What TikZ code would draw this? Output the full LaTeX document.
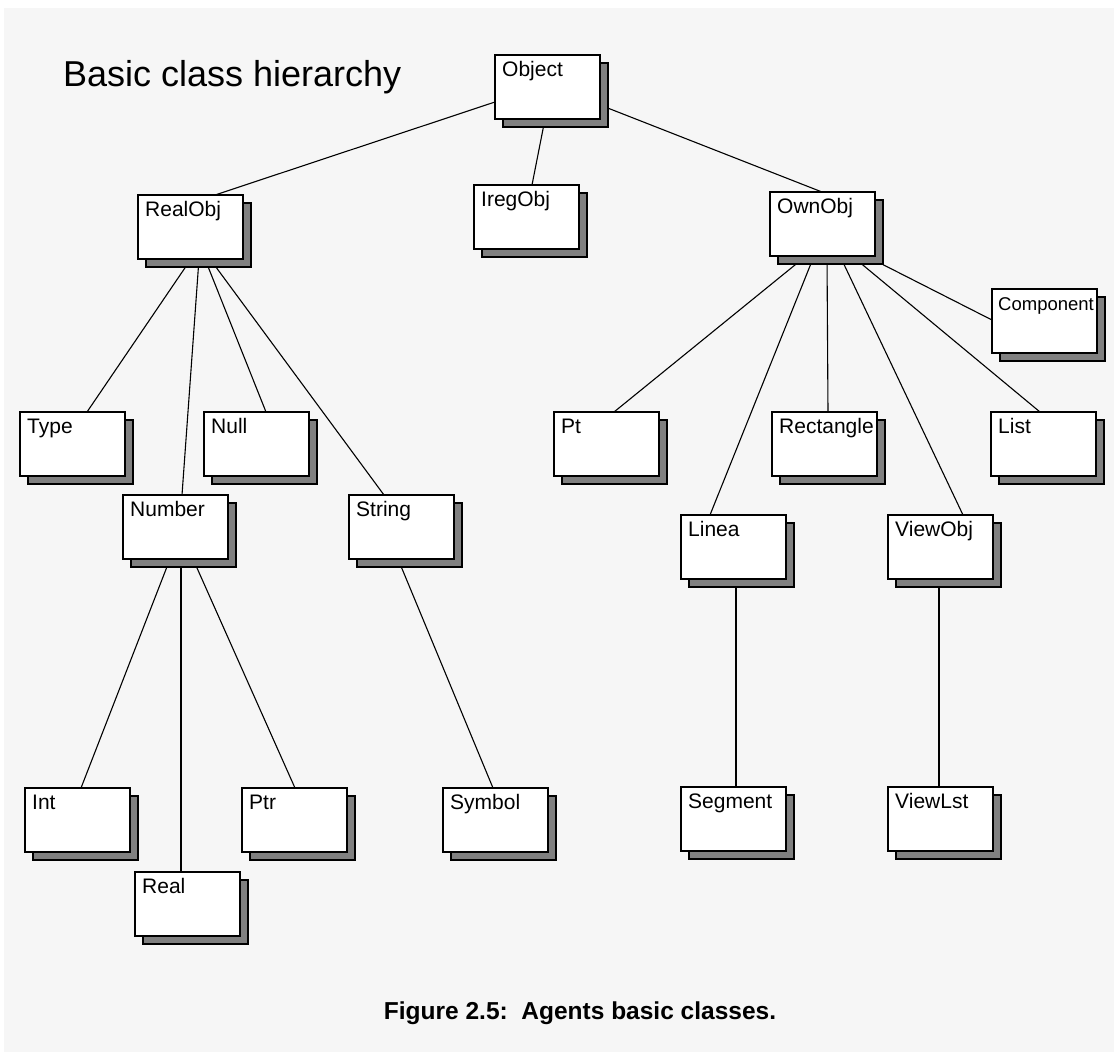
\documentclass[tikz,border=0pt]{standalone}
\usepackage{fontspec}
\setmainfont{Liberation Sans}
\usetikzlibrary{shadows,backgrounds}
\definecolor{pagegray}{HTML}{F6F6F6}
\definecolor{shadowgray}{HTML}{808080}
\begin{document}
\begin{tikzpicture}[x=1pt,y=-1pt,
  clstext/.style={anchor=base west, inner sep=0pt, xshift=7pt, yshift=-21pt,
    font=\fontsize{21}{21}\selectfont},
  clsbox/.style={rectangle, draw=black, fill=white, line width=1.1pt,
    minimum width=105pt, minimum height=64pt, inner sep=0pt, outer sep=0pt,
    anchor=north west,
    copy shadow={shadow xshift=8pt, shadow yshift=-8pt, fill=shadowgray,
      draw=black, line width=1.1pt}},
  cls/.style={clsbox, label={[clstext]north west:#1}},
  edge/.style={draw=black, line width=1.1pt}]
\useasboundingbox (0,0) rectangle (1114,1052);

% class boxes
\node[cls=Object]    (Object)    at (495,55)  {};
\node[cls=RealObj]   (RealObj)   at (138,195) {};
\node[cls=IregObj]   (IregObj)   at (474,185) {};
\node[cls=OwnObj]    (OwnObj)    at (770,192) {};
\node[clsbox, label={[clstext, font=\fontsize{18.5}{18.5}\selectfont, xshift=-1pt]north west:Component}] (Component) at (992,289) {};
\node[cls=Type]      (Type)      at (20,412)  {};
\node[cls=Null]      (Null)      at (204,412) {};
\node[cls=Pt]        (Pt)        at (554,412) {};
\node[cls=Rectangle] (Rectangle) at (772,412) {};
\node[cls=List]      (List)      at (991,412) {};
\node[cls=Number]    (Number)    at (123,495) {};
\node[cls=String]    (String)    at (349,495) {};
\node[cls=Linea]     (Linea)     at (681,515) {};
\node[cls=ViewObj]   (ViewObj)   at (888,515) {};
\node[cls=Int]       (Int)       at (25,788)  {};
\node[cls=Ptr]       (Ptr)       at (242,788) {};
\node[cls=Symbol]    (Symbol)    at (443,788) {};
\node[cls=Segment]   (Segment)   at (681,787) {};
\node[cls=ViewLst]   (ViewLst)   at (888,787) {};
\node[cls=Real]      (Real)      at (135,872) {};

% title and caption
\node[anchor=base west, inner sep=0pt, font=\fontsize{36}{36}\selectfont]
  (title) at (63,86) {Basic class hierarchy};
\node[anchor=base, inner sep=0pt, font=\bfseries\fontsize{24.5}{24.5}\selectfont]
  (caption) at (580,1019) {Figure 2.5:\ \ Agents basic classes.};

\begin{scope}[on background layer]
  \fill[pagegray] (4,8) rectangle (1114,1052);
  % inheritance links
  \draw[edge] ([yshift=-47pt]Object.north west) -- ([xshift=77pt]RealObj.north west);
  \draw[edge] ([xshift=50pt]Object.south west) -- ([xshift=58pt]IregObj.north west);
  \draw[edge] ([yshift=-50pt]Object.north east) -- ([xshift=52pt]OwnObj.north west);

  \draw[edge] ([xshift=53pt]RealObj.south west) -- ([xshift=67pt]Type.north west);
  \draw[edge] ([xshift=61pt]RealObj.south west) -- ([xshift=59pt]Number.north west);
  \draw[edge] ([xshift=67pt]RealObj.south west) -- ([xshift=62pt]Null.north west);
  \draw[edge] ([xshift=72pt]RealObj.south west) -- ([xshift=35pt]String.north west);

  \draw[edge] ([xshift=47pt]Number.south west) -- ([xshift=56pt]Int.north west);
  \draw[edge] ([xshift=58pt]Number.south west) -- ([xshift=46pt]Real.north west);
  \draw[edge] ([xshift=70pt]Number.south west) -- ([xshift=53pt]Ptr.north west);
  \draw[edge] ([xshift=49pt]String.south west) -- ([xshift=50pt]Symbol.north west);

  \draw[edge] ([xshift=36pt]OwnObj.south west) -- ([xshift=60pt]Pt.north west);
  \draw[edge] ([xshift=44pt]OwnObj.south west) -- ([xshift=29pt]Linea.north west);
  \draw[edge] ([xshift=57pt]OwnObj.south west) -- ([xshift=56pt]Rectangle.north west);
  \draw[edge] ([xshift=70pt]OwnObj.south west) -- ([xshift=75pt]ViewObj.north west);
  \draw[edge] ([xshift=82pt]OwnObj.south west) -- ([xshift=49pt]List.north west);
  \draw[edge] ([xshift=96pt]OwnObj.south west) -- ([yshift=-31pt]Component.north west);

  \draw[edge] ([xshift=55pt]Linea.south west) -- ([xshift=55pt]Segment.north west);
  \draw[edge] ([xshift=51pt]ViewObj.south west) -- ([xshift=51pt]ViewLst.north west);
\end{scope}
\end{tikzpicture}
\end{document}
